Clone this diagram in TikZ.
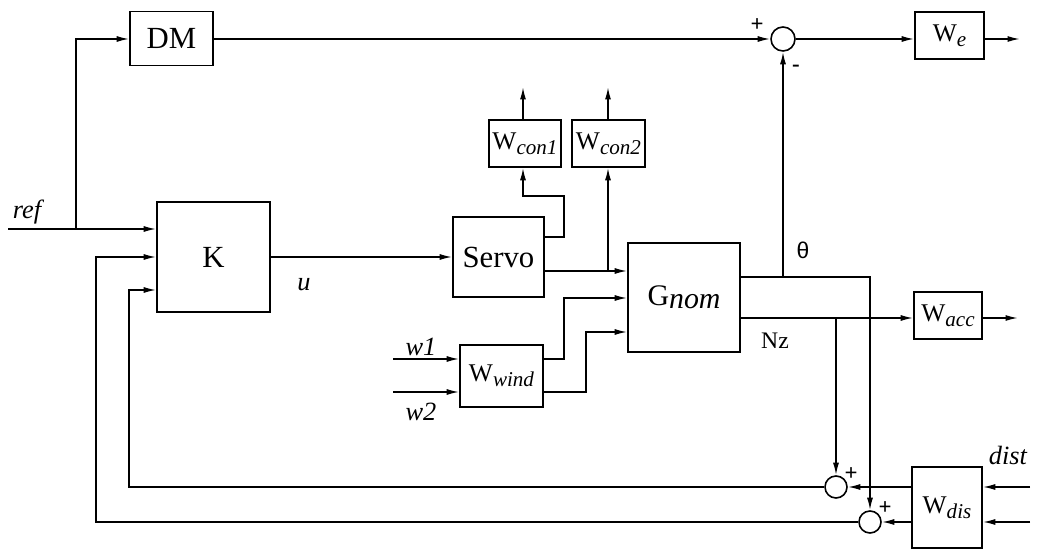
\documentclass[tikz,border=0pt]{standalone}
\usepackage{fontspec}
\setmainfont{Liberation Serif}
\newfontfamily\sansf{Liberation Sans}
\usetikzlibrary{arrows.meta}
\newcommand\wsub[1]{\raisebox{-0.45ex}{\fontsize{12}{13}\selectfont\itshape #1}}
\tikzset{
  blk/.style={draw, line width=0.9pt, inner sep=0pt, font=\fontsize{14.5}{16}\selectfont},
  bigblk/.style={blk, font=\fontsize{17.5}{19}\selectfont},
  sumc/.style={draw, circle, line width=0.9pt, minimum size=#1, inner sep=0pt},
  ln/.style={line width=0.9pt},
  ar/.style={ln, -{Latex[length=2.5mm,width=1.2mm]}},
  lab/.style={font=\fontsize{15}{17}\selectfont\itshape, inner sep=0pt},
  sgn/.style={font=\fontsize{13}{14}\selectfont\bfseries, inner sep=0pt}
}
\begin{document}
\begin{tikzpicture}[x=0.02cm, y=-0.02cm]
\useasboundingbox (0,0) rectangle (1038,550);
% blocks
\node[bigblk, minimum width=83*0.02cm, minimum height=54*0.02cm] (DM) at (171.5,38.5) {DM};
\node[bigblk, minimum width=113*0.02cm, minimum height=110*0.02cm] (K) at (213.5,257) {K};
\node[bigblk, minimum width=91*0.02cm, minimum height=80*0.02cm] (S) at (498.5,257) {Servo};
\node[blk, minimum width=72*0.02cm, minimum height=47*0.02cm] (C1) at (525,143.5) {W\wsub{con1}};
\node[blk, minimum width=73*0.02cm, minimum height=47*0.02cm] (C2) at (608.5,143.5) {W\wsub{con2}};
\node[blk, minimum width=112*0.02cm, minimum height=109*0.02cm] (G) at (684,297.5) {\fontsize{17}{19}\selectfont G\raisebox{-0.2ex}{\itshape nom}};
\node[blk, minimum width=83*0.02cm, minimum height=62*0.02cm] (WW) at (501.5,376) {W\wsub{wind}};
\node[blk, minimum width=69*0.02cm, minimum height=47*0.02cm] (WE) at (949.5,35.5) {W\wsub{e}};
\node[blk, minimum width=68*0.02cm, minimum height=47*0.02cm] (WA) at (948,315.5) {W\wsub{acc}};
\node[blk, minimum width=70*0.02cm, minimum height=81*0.02cm] (WD) at (947,507.5) {W\wsub{dis}};
% sums
\node[sumc=24*0.02cm] (S0) at (783,39) {};
\node[sumc=22*0.02cm] (S1) at (836,487) {};
\node[sumc=22*0.02cm] (S2) at (870,522) {};
% free ends
\coordinate (refin) at (8,229);
\coordinate (w1in) at (393,359);
\coordinate (w2in) at (393,392);
\coordinate (d1in) at (1030,487);
\coordinate (d2in) at (1030,522);
\coordinate (weout) at (1020,39);
\coordinate (waout) at (1018,318);
\coordinate (c1out) at (523,87);
\coordinate (c2out) at (608,87);
% ref and DM
\draw[ar] (refin) -- (K.west |- refin);
\draw[ar] (76,229) |- (DM.west |- 0,39);
\draw[ar] (DM.east |- 0,39) -- (S0.west);
\draw[ar] (S0.east) -- (WE.west |- 0,39);
\draw[ar] (WE.east |- 0,39) -- (weout);
% K to servo
\draw[ar] (K.east) -- (S.west);
% servo outputs
\draw[ar] (S.east |- 0,271) -- (G.west |- 0,271);
\draw[ar] (608,271) -- (C2.south -| 608,0);
\draw[ar] (S.east |- 0,237) -| (564,196) -| (C1.south -| 523,0);
\draw[ar] (C1.north -| 523,0) -- (c1out);
\draw[ar] (C2.north -| 608,0) -- (c2out);
% wind
\draw[ar] (w1in) -- (WW.west |- w1in);
\draw[ar] (w2in) -- (WW.west |- w2in);
\draw[ar] (WW.east |- 0,359) -| (564,298) -- (G.west |- 0,298);
\draw[ar] (WW.east |- 0,392) -| (586,332) -- (G.west |- 0,332);
% Gnom outputs
\draw[ln] (G.east |- 0,277) -| (870,300);
\draw[ar] (870,300) -- (S2.north);
\draw[ar] (783,277) -- (S0.south);
\draw[ar] (G.east |- 0,318) -- (WA.west |- 0,318);
\draw[ar] (836,318) -- (S1.north);
\draw[ar] (WA.east |- 0,318) -- (waout);
% disturbances
\draw[ar] (d1in) -- (WD.east |- d1in);
\draw[ar] (d2in) -- (WD.east |- d2in);
\draw[ar] (WD.west |- 0,487) -- (S1.east);
\draw[ar] (WD.west |- 0,522) -- (S2.east);
% feedback
\draw[ar] (S1.west) -| (129,290) -- (K.west |- 0,290);
\draw[ar] (S2.west) -| (96,257) -- (K.west |- 0,257);
% labels
\node[lab] at (27,212) {ref};
\node[lab] at (304,285) {u};
\node[lab] at (421,347) {w1};
\node[lab] at (421,412) {w2};
\node[lab] at (1008,455) {dist};
\node[inner sep=0pt, font=\sansf\fontsize{13}{14}\selectfont] at (803,250) {θ};
\node[inner sep=0pt, font=\fontsize{13.5}{15}\selectfont] at (775,341) {Nz};
\node[sgn] at (757,25) {+};
\node[sgn] at (796,68) {-};
\node[sgn] at (851,474) {+};
\node[sgn] at (885,508) {+};
\end{tikzpicture}
\end{document}
